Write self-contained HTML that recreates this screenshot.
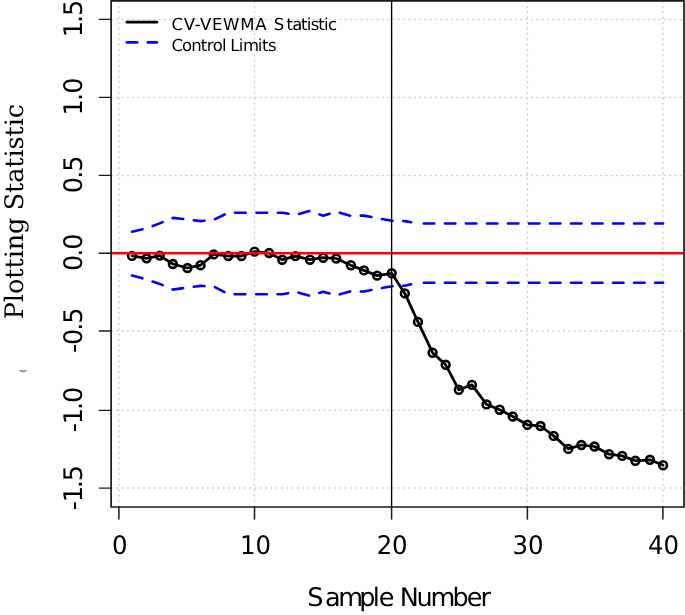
<!DOCTYPE html>
<html lang="en"><head><meta charset="utf-8"><title>CV-VEWMA control chart</title>
<style>
html,body{margin:0;padding:0;background:#fff;}
body{width:685px;height:615px;overflow:hidden;}
svg{display:block;will-change:transform;}
text{text-rendering:geometricPrecision;}
.sans{font-family:"DejaVu Sans","Liberation Sans",sans-serif;fill:#000;}
.serif{font-family:"DejaVu Serif","Liberation Serif",serif;fill:#000;}
</style></head><body>
<svg width="685" height="615" viewBox="0 0 685 615">
<rect x="0" y="0" width="685" height="615" fill="#ffffff"/>
<g stroke="#d0d0d0" stroke-width="1.5" stroke-linecap="round" fill="none">
<g stroke-dasharray="0.9 4.47">
<line x1="118.90" y1="1.15" x2="118.90" y2="507.0"/>
<line x1="254.50" y1="1.15" x2="254.50" y2="507.0"/>
<line x1="391.60" y1="1.15" x2="391.60" y2="507.0"/>
<line x1="527.40" y1="1.15" x2="527.40" y2="507.0"/>
<line x1="662.90" y1="1.15" x2="662.90" y2="507.0"/>
</g><g stroke-dasharray="0.9 4.418">
<line x1="111.33" y1="19.40" x2="684.0" y2="19.40"/>
<line x1="111.33" y1="97.40" x2="684.0" y2="97.40"/>
<line x1="111.33" y1="175.40" x2="684.0" y2="175.40"/>
<line x1="111.33" y1="253.20" x2="684.0" y2="253.20"/>
<line x1="111.33" y1="331.00" x2="684.0" y2="331.00"/>
<line x1="111.33" y1="410.30" x2="684.0" y2="410.30"/>
<line x1="111.33" y1="488.10" x2="684.0" y2="488.10"/>
</g></g>
<g stroke="#0000ff" stroke-width="2.6" stroke-linecap="round" stroke-linejoin="round" fill="none">
<path stroke-dasharray="10.72 10.73" d="M132.01,231.70 L146.60,228.30 L159.73,223.40 L172.86,217.90 L187.45,219.50 L200.58,221.10 L213.71,219.80 L228.30,212.70 L241.43,212.70 L254.56,212.70 L269.15,212.70 L282.28,212.70 L295.41,215.00 L310.00,210.90 L323.13,215.80 L336.27,211.70 L350.86,215.90 L363.99,215.60 L377.12,218.20 L391.71,220.70 L404.84,221.10 L411.14,222.28"/>
<path stroke-dasharray="10.5 10.52" stroke-dashoffset="2.5" d="M663.07,223.55 L649.94,223.55 L635.35,223.55 L622.22,223.55 L609.09,223.55 L594.50,223.55 L581.37,223.55 L568.24,223.55 L553.65,223.55 L540.52,223.55 L527.39,223.55 L512.80,223.55 L499.67,223.55 L486.54,223.55 L471.95,223.55 L458.82,223.55 L445.69,223.55 L432.56,223.55 L417.97,223.55"/>
<path stroke-dasharray="10.72 10.73" d="M132.01,275.60 L146.60,279.50 L159.73,283.90 L172.86,289.60 L187.45,287.50 L200.58,285.90 L213.71,286.50 L228.30,294.30 L241.43,294.30 L254.56,294.30 L269.15,294.30 L282.28,294.30 L295.41,291.80 L310.00,295.90 L323.13,291.70 L336.27,295.30 L350.86,291.20 L363.99,291.50 L377.12,289.00 L391.71,286.20 L404.84,285.70 L411.14,284.26"/>
<path stroke-dasharray="10.5 10.52" stroke-dashoffset="2.5" d="M663.07,282.70 L649.94,282.70 L635.35,282.70 L622.22,282.70 L609.09,282.70 L594.50,282.70 L581.37,282.70 L568.24,282.70 L553.65,282.70 L540.52,282.70 L527.39,282.70 L512.80,282.70 L499.67,282.70 L486.54,282.70 L471.95,282.70 L458.82,282.70 L445.69,282.70 L432.56,282.70 L417.97,282.70"/>
</g>
<g stroke="#000" fill="none" stroke-linecap="round" stroke-linejoin="round">
<path stroke-width="2.75" d="M132.01,255.90 L146.60,258.30 L159.73,255.60 L172.86,264.00 L187.45,268.00 L200.58,265.20 L213.71,254.40 L228.30,256.00 L241.43,256.00 L254.56,251.60 L269.15,253.00 L282.28,259.70 L295.41,256.10 L310.00,259.70 L323.13,257.70 L336.27,258.50 L350.86,265.20 L363.99,270.40 L377.12,275.60 L391.71,273.30 L404.84,293.40 L417.97,321.90 L432.56,352.70 L445.69,364.80 L458.82,389.80 L471.95,384.90 L486.54,404.40 L499.67,409.70 L512.80,416.50 L527.39,424.80 L540.52,426.00 L553.65,435.90 L568.24,448.90 L581.37,445.00 L594.50,446.50 L609.09,454.20 L622.22,455.90 L635.35,460.80 L649.94,459.80 L663.07,465.20"/>
<g stroke-width="2.6">
<circle cx="132.01" cy="255.90" r="3.9"/>
<circle cx="146.60" cy="258.30" r="3.9"/>
<circle cx="159.73" cy="255.60" r="3.9"/>
<circle cx="172.86" cy="264.00" r="3.9"/>
<circle cx="187.45" cy="268.00" r="3.9"/>
<circle cx="200.58" cy="265.20" r="3.9"/>
<circle cx="213.71" cy="254.40" r="3.9"/>
<circle cx="228.30" cy="256.00" r="3.9"/>
<circle cx="241.43" cy="256.00" r="3.9"/>
<circle cx="254.56" cy="251.60" r="3.9"/>
<circle cx="269.15" cy="253.00" r="3.9"/>
<circle cx="282.28" cy="259.70" r="3.9"/>
<circle cx="295.41" cy="256.10" r="3.9"/>
<circle cx="310.00" cy="259.70" r="3.9"/>
<circle cx="323.13" cy="257.70" r="3.9"/>
<circle cx="336.27" cy="258.50" r="3.9"/>
<circle cx="350.86" cy="265.20" r="3.9"/>
<circle cx="363.99" cy="270.40" r="3.9"/>
<circle cx="377.12" cy="275.60" r="3.9"/>
<circle cx="391.71" cy="273.30" r="3.9"/>
<circle cx="404.84" cy="293.40" r="3.9"/>
<circle cx="417.97" cy="321.90" r="3.9"/>
<circle cx="432.56" cy="352.70" r="3.9"/>
<circle cx="445.69" cy="364.80" r="3.9"/>
<circle cx="458.82" cy="389.80" r="3.9"/>
<circle cx="471.95" cy="384.90" r="3.9"/>
<circle cx="486.54" cy="404.40" r="3.9"/>
<circle cx="499.67" cy="409.70" r="3.9"/>
<circle cx="512.80" cy="416.50" r="3.9"/>
<circle cx="527.39" cy="424.80" r="3.9"/>
<circle cx="540.52" cy="426.00" r="3.9"/>
<circle cx="553.65" cy="435.90" r="3.9"/>
<circle cx="568.24" cy="448.90" r="3.9"/>
<circle cx="581.37" cy="445.00" r="3.9"/>
<circle cx="594.50" cy="446.50" r="3.9"/>
<circle cx="609.09" cy="454.20" r="3.9"/>
<circle cx="622.22" cy="455.90" r="3.9"/>
<circle cx="635.35" cy="460.80" r="3.9"/>
<circle cx="649.94" cy="459.80" r="3.9"/>
<circle cx="663.07" cy="465.20" r="3.9"/>
</g></g>
<line x1="111.1" y1="253.20" x2="684.0" y2="253.20" stroke="#ff0000" stroke-width="2.6"/>
<line x1="391.60" y1="0.8" x2="391.60" y2="507.0" stroke="#000" stroke-width="1.34"/>
<g stroke="#1a1a1a" fill="none" stroke-linecap="round" stroke-linejoin="round">
<rect stroke-width="1.7" x="111.1" y="0.8" width="572.90" height="506.20"/>
<g stroke-width="1.5">
<line x1="118.90" y1="507.0" x2="118.90" y2="518.90"/>
<line x1="254.50" y1="507.0" x2="254.50" y2="518.90"/>
<line x1="391.60" y1="507.0" x2="391.60" y2="518.90"/>
<line x1="527.40" y1="507.0" x2="527.40" y2="518.90"/>
<line x1="662.90" y1="507.0" x2="662.90" y2="518.90"/>
</g><g stroke-width="1.35">
<line x1="111.1" y1="19.40" x2="99.30" y2="19.40"/>
<line x1="111.1" y1="97.40" x2="99.30" y2="97.40"/>
<line x1="111.1" y1="175.40" x2="99.30" y2="175.40"/>
<line x1="111.1" y1="253.20" x2="99.30" y2="253.20"/>
<line x1="111.1" y1="331.00" x2="99.30" y2="331.00"/>
<line x1="111.1" y1="410.30" x2="99.30" y2="410.30"/>
<line x1="111.1" y1="488.10" x2="99.30" y2="488.10"/>
</g></g>
<line x1="126.8" y1="22.1" x2="157" y2="22.1" stroke="#000" stroke-width="2.6" stroke-linecap="round"/>
<line x1="126.8" y1="42.4" x2="157" y2="42.4" stroke="#0000ff" stroke-width="2.6" stroke-linecap="round" stroke-dasharray="10.5 10.5"/>
<text class="sans" font-size="25.7" transform="scale(0.95,1)" x="117.84" y="554.0">0</text>
<text class="sans" font-size="25.7" transform="scale(0.95,1)" x="252.65 268.85" y="554.0">10</text>
<text class="sans" font-size="25.7" transform="scale(0.95,1)" x="396.49 412.64" y="554.0">20</text>
<text class="sans" font-size="25.7" transform="scale(0.95,1)" x="539.60 555.77" y="554.0">30</text>
<text class="sans" font-size="25.7" transform="scale(0.95,1)" x="682.24 698.43" y="554.0">40</text>
<text class="sans" font-size="25.6" transform="translate(82.0,0) rotate(-90)" x="-37.32 -23.05 -15.93" y="0">1.5</text>
<text class="sans" font-size="25.6" transform="translate(82.0,0) rotate(-90)" x="-115.47 -101.03 -93.82" y="0">1.0</text>
<text class="sans" font-size="25.6" transform="translate(82.0,0) rotate(-90)" x="-193.26 -178.87 -171.68" y="0">0.5</text>
<text class="sans" font-size="25.6" transform="translate(82.0,0) rotate(-90)" x="-271.06 -256.80 -249.67" y="0">0.0</text>
<text class="sans" font-size="25.6" transform="translate(82.0,0) rotate(-90)" x="-352.98 -344.94 -330.77 -323.68" y="0">-0.5</text>
<text class="sans" font-size="25.6" transform="translate(82.0,0) rotate(-90)" x="-432.18 -424.14 -409.97 -402.90" y="0">-1.0</text>
<text class="sans" font-size="25.6" transform="translate(82.0,0) rotate(-90)" x="-510.18 -502.25 -488.27 -481.28" y="0">-1.5</text>
<text class="sans" font-size="25.5" x="307.28 324.97 338.17 359.15 372.82 378.80 394.50 399.65 416.41 430.62 452.45 466.68 480.47" y="605.7">Sample Number</text>
<text class="serif" font-size="25.5" transform="translate(23.2,0) rotate(-90)" x="-319.20 -302.14 -294.03 -278.76 -268.56 -258.37 -250.26 -233.93 -217.60 -210.37 -193.03 -182.86 -167.77 -157.60 -149.50 -136.51 -126.34 -118.24" y="0">Plotting Statistic</text>
<text class="sans" font-size="16.5" x="171.49 183.70 194.64 199.93 211.90 222.95 240.24 255.34 266.63 273.73 286.49 292.16 301.02 306.69 310.70 318.24 323.91 327.93" y="29.6">CV-VEWMA Statistic</text>
<text class="sans" font-size="16.5" x="171.49 182.03 191.27 200.84 206.76 212.64 221.88 226.46 230.25 238.72 242.94 257.75 261.97 267.93" y="50.7">Control Limits</text>
<path d="M18.6,369.9 L27.3,369.9 Q25.5,372.4 22.6,372.4 Q20.2,372.2 18.6,369.9 Z" fill="#9c9c9c"/>
</svg></body></html>
